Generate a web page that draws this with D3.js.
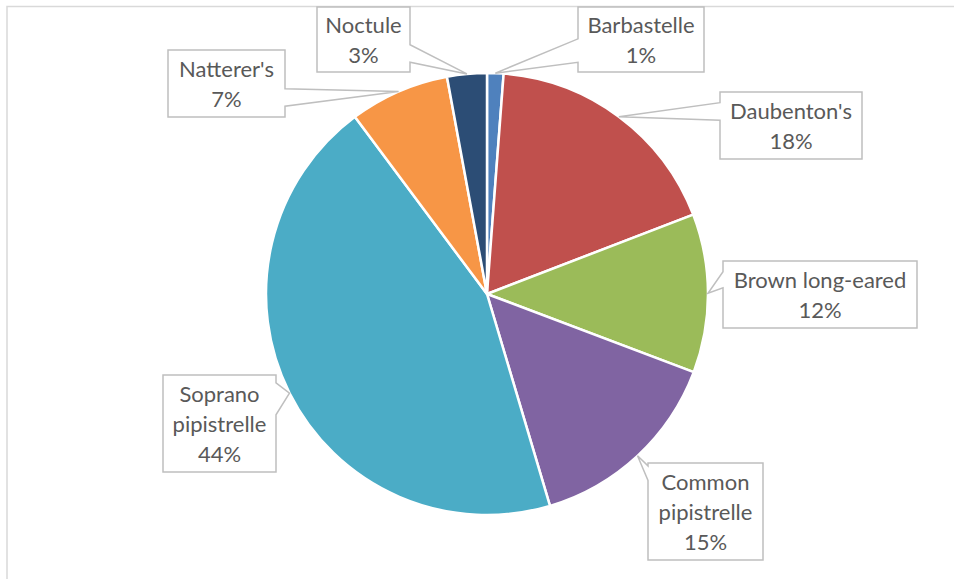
<!DOCTYPE html>
<html>
<head>
<meta charset="utf-8">
<script src="https://cdn.jsdelivr.net/npm/d3@7"></script>
<style>
  html, body { margin: 0; padding: 0; background: #fff; }
  svg { display: block; }
</style>
</head>
<body>
<svg id="chart" width="954" height="579"></svg>
<script>
// ---- data ----
const categories = ["Barbastelle", "Daubenton's", "Brown long-eared", "Common pipistrelle", "Soprano pipistrelle", "Natterer's", "Noctule"];
const values = [1.2, 17.95, 11.6, 14.65, 44.4, 7.3, 2.9];
const colors = ["#4F81BD", "#C0504D", "#9BBB59", "#8064A2", "#4BACC6", "#F79646", "#2C4D75"];
const labelLines = [["Barbastelle"], ["Daubenton's"], ["Brown long-eared"], ["Common", "pipistrelle"], ["Soprano", "pipistrelle"], ["Natterer's"], ["Noctule"]];

// ---- layout (label callout boxes) ----
const labelBoxes = [
  { x: 578, y: 7, w: 126, h: 65, side: "left", f: [0.49, 0.85] },
  { x: 720, y: 92, w: 142, h: 67, side: "left", f: [0.16, 0.42] },
  { x: 723, y: 261, w: 194, h: 67, side: "left", f: [0.16, 0.40] },
  { x: 648, y: 463, w: 115, h: 97, side: "left", f: [0.03, 0.18] },
  { x: 163, y: 375, w: 113, h: 97, side: "right", f: [0.08, 0.41] },
  { x: 168, y: 50, w: 117, h: 67, side: "right", f: [0.58, 0.84] },
  { x: 317, y: 7, w: 93, h: 65, side: "right", f: [0.58, 0.85] }
];

const svg = d3.select("#chart");
const cx = 487, cy = 294, R = 221;

// chart area border
svg.append("rect")
  .attr("x", 7).attr("y", 6.5)
  .attr("width", 2000).attr("height", 2000)
  .attr("fill", "#fff")
  .attr("stroke", "#d9d9d9").attr("stroke-width", 1.5);

const total = d3.sum(values);
const pie = d3.pie().sort(null).value(d => d).startAngle(0).endAngle(2 * Math.PI);
const arcs = pie(values);
const arc = d3.arc().innerRadius(0).outerRadius(R);
const edgeArc = d3.arc().innerRadius(R).outerRadius(R);

const g = svg.append("g").attr("transform", `translate(${cx},${cy})`);
g.selectAll("path.slice")
  .data(arcs)
  .join("path")
  .attr("class", "slice")
  .attr("d", arc)
  .attr("fill", (d, i) => colors[i])
  .attr("stroke", "#fff")
  .attr("stroke-width", 2.5)
  .attr("stroke-linejoin", "round");

// callouts
const labelsG = svg.append("g");
arcs.forEach((d, i) => {
  const b = labelBoxes[i];
  const c = edgeArc.centroid(d);
  const tx = cx + c[0], ty = cy + c[1];
  const x0 = b.x, y0 = b.y, x1 = b.x + b.w, y1 = b.y + b.h;
  const ya = y0 + b.h * b.f[0], yb = y0 + b.h * b.f[1];
  const p = d3.path();
  if (b.side === "left") {
    p.moveTo(x0, y0); p.lineTo(x1, y0); p.lineTo(x1, y1); p.lineTo(x0, y1);
    p.lineTo(x0, yb); p.lineTo(tx, ty); p.lineTo(x0, ya); p.closePath();
  } else {
    p.moveTo(x0, y0); p.lineTo(x1, y0); p.lineTo(x1, ya); p.lineTo(tx, ty);
    p.lineTo(x1, yb); p.lineTo(x1, y1); p.lineTo(x0, y1); p.closePath();
  }
  labelsG.append("path")
    .attr("d", p.toString())
    .attr("fill", "#fff")
    .attr("stroke", "#bfbfbf")
    .attr("stroke-width", 1.5)
    .attr("stroke-linejoin", "miter");

  const lines = labelLines[i].concat([Math.round(values[i] / total * 100) + "%"]);
  const n = lines.length;
  const midY = b.y + b.h / 2;
  const t = labelsG.append("text")
    .attr("text-anchor", "middle")
    .attr("font-family", "Lato, 'Open Sans', sans-serif")
    .attr("font-size", 22)
    .attr("fill", "#595959");
  lines.forEach((ln, k) => {
    t.append("tspan")
      .attr("x", b.x + b.w / 2)
      .attr("y", midY + (k - (n - 1) / 2) * 30 + 8)
      .text(ln);
  });
});
</script>
</body>
</html>
